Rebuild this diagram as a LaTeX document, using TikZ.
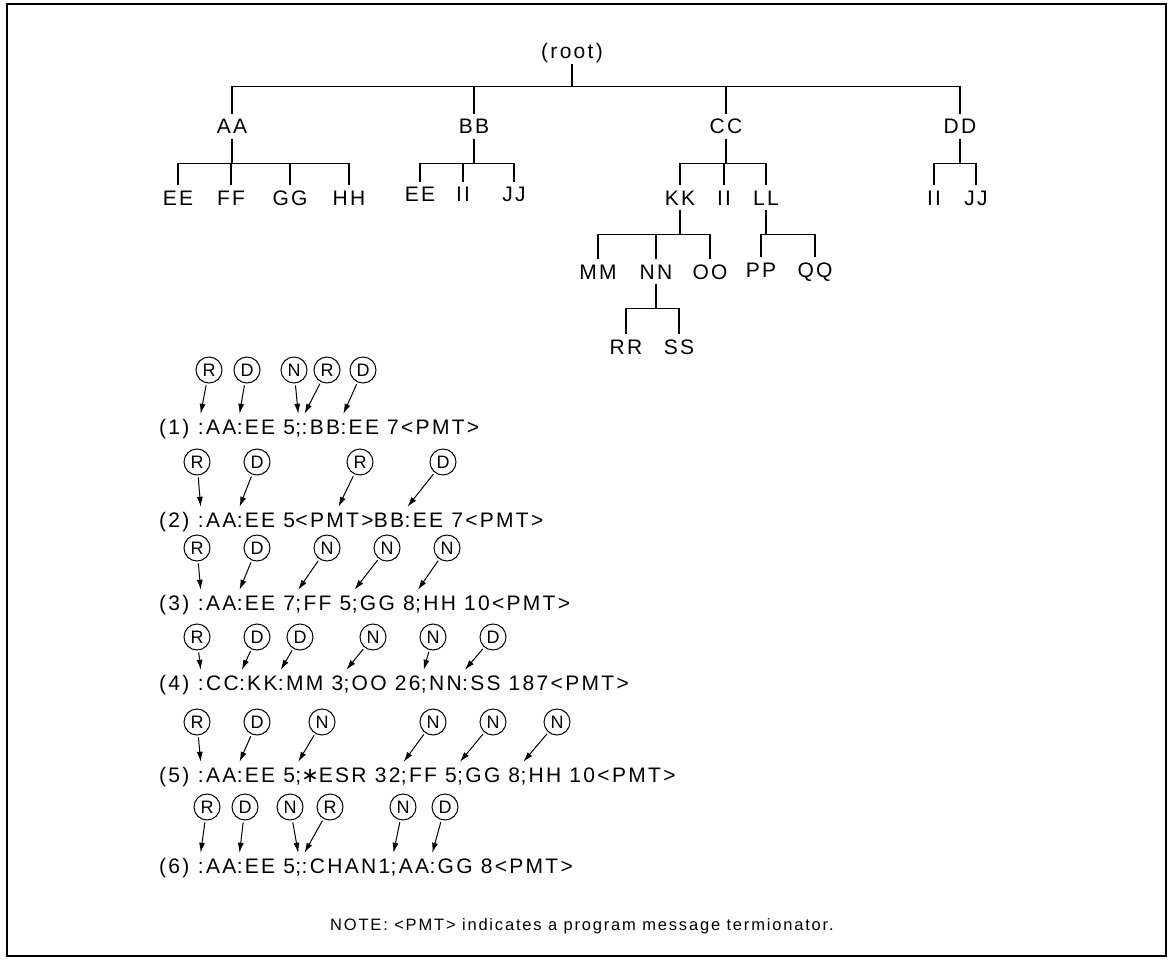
\documentclass[tikz,border=0pt]{standalone}
\usepackage{fontspec}
\setmainfont{Liberation Sans}[LetterSpace=11]
\newfontfamily\astfont{DejaVu Sans}
\usetikzlibrary{arrows.meta}

\tikzset{
  lbl/.style={inner xsep=0pt,inner ysep=5pt,text height=15pt,text depth=0pt,anchor=base,
    font=\fontsize{21}{25}\selectfont},
  msg/.style={inner sep=0pt,text height=20pt,text depth=0pt,anchor=base west,
    font=\fontsize{21}{25}\selectfont},
  tag/.style={circle,draw,line width=1pt,inner sep=0pt,minimum size=26pt,
    font=\fontsize{18}{18}\selectfont},
  ptr/.style={-{Latex[length=10pt,width=6pt]},line width=1pt,shorten <=2pt},
  branch/.style={line width=1.2pt}
}

\begin{document}
\begin{tikzpicture}[x=1pt,y=-1pt]
\useasboundingbox (0,0) rectangle (1172,960);
\draw[line width=1.3pt] (7,4) rectangle (1166,956);

% command tree
\node[lbl] (root) at (572,59) {(root)};
\foreach \name/\label/\x in {aa/AA/232,bb/BB/474,cc/CC/726,dd/DD/960}
\node[lbl] (\name) at (\x,134) {\label};
\foreach \name/\label/\x/\y in {aaee/EE/178/205,aaff/FF/231/205,aagg/GG/290/205,aahh/HH/349/205,bbee/EE/420/202,bbii/II/463/202,bbjj/JJ/514/202,cckk/KK/680/205,ccii/II/724/205,ccll/LL/766/205,ddii/II/934/205,ddjj/JJ/976/205,kkmm/MM/598/279,kknn/NN/656/279,kkoo/OO/710/279,llpp/PP/761/277,llqq/QQ/815/277,nnrr/RR/626/354,nnss/SS/679/354}
\node[lbl] (\name) at (\x,\y) {\label};
\foreach \kid in {aa,bb,cc,dd}
\draw[branch] (root.south) -- ++(0,22) -| (\kid.north);
\foreach \from/\kid in {aa/aaee,aa/aaff,aa/aagg,aa/aahh,bb/bbee,bb/bbii,bb/bbjj,cc/cckk,cc/ccii,cc/ccll,dd/ddii,dd/ddjj,cckk/kkmm,cckk/kknn,cckk/kkoo,ccll/llpp,ccll/llqq,kknn/nnrr,kknn/nnss}
\draw[branch] (\from.south) -- ++(0,24) -| (\kid.north);

% (1)
\node[msg] (m1o) at (159,434) {(1)\kern8pt};
\foreach \k/\txt [remember=\k as \prev (initially o)] in {a/{:AA},b/{:EE 5},c/{;},d/{:BB},e/{:EE 7<PMT>}}
\node[msg] (m1\k) at (m1\prev.base east) {\txt};
\foreach \lab/\x/\k in {R/209/a,D/247/b,N/294/c,R/327/d,D/363/e}{
\node[tag] (t1\k) at (\x,370) {\lab};
\draw[ptr] (t1\k) -- ([xshift=3pt]m1\k.north west);
}
% (2)
\node[msg] (m2o) at (159,527) {(2)\kern8pt};
\foreach \k/\txt [remember=\k as \prev (initially o)] in {a/{:AA},b/{:EE 5},c/{<PMT>},d/{BB},e/{:EE 7<PMT>}}
\node[msg] (m2\k) at (m2\prev.base east) {\txt};
\foreach \lab/\x/\k in {R/197/a,D/257/b,D/443/e}{
\node[tag] (t2\k) at (\x,462) {\lab};
\draw[ptr] (t2\k) -- ([xshift=3pt]m2\k.north west);
}
\node[tag] (t2c) at (360,462) {R};
\draw[ptr] (t2c) -- ([xshift=4pt]m2c.north);
% (3)
\node[msg] (m3o) at (159,610) {(3)\kern8pt};
\foreach \k/\txt [remember=\k as \prev (initially o)] in {a/{:AA},b/{:EE 7},c/{;FF 5},d/{;GG 8},e/{;HH 10<PMT>}}
\node[msg] (m3\k) at (m3\prev.base east) {\txt};
\foreach \lab/\x/\k in {R/197/a,D/257/b,N/327/c,N/387/d,N/447/e}{
\node[tag] (t3\k) at (\x,548) {\lab};
\draw[ptr] (t3\k) -- ([xshift=3pt]m3\k.north west);
}
% (4)
\node[msg] (m4o) at (159,690) {(4)\kern8pt};
\foreach \k/\txt [remember=\k as \prev (initially o)] in {a/{:CC},b/{:KK},c/{:MM 3},d/{;OO 26},e/{;NN},f/{:SS 187<PMT>}}
\node[msg] (m4\k) at (m4\prev.base east) {\txt};
\foreach \lab/\x/\k in {R/197/a,D/257/b,D/300/c,N/373/d,N/433/e,D/493/f}{
\node[tag] (t4\k) at (\x,637) {\lab};
\draw[ptr] (t4\k) -- ([xshift=3pt]m4\k.north west);
}
% (5)
\node[msg] (m5o) at (159,782) {(5)\kern8pt};
\foreach \k/\txt [remember=\k as \prev (initially o)] in {a/{:AA},b/{:EE 5},c/{;{\astfont ∗}ESR 32},d/{;FF 5},e/{;GG 8},f/{;HH 10<PMT>}}
\node[msg] (m5\k) at (m5\prev.base east) {\txt};
\foreach \lab/\x/\k in {R/197/a,D/257/b,N/322/c,N/433/d,N/493/e,N/557/f}{
\node[tag] (t5\k) at (\x,722) {\lab};
\draw[ptr] (t5\k) -- ([xshift=3pt]m5\k.north west);
}
% (6)
\node[msg] (m6o) at (159,873) {(6)\kern8pt};
\foreach \k/\txt [remember=\k as \prev (initially o)] in {a/{:AA},b/{:EE 5},c/{;},d/{:CHAN1},e/{;AA},f/{:GG 8<PMT>}}
\node[msg] (m6\k) at (m6\prev.base east) {\txt};
\foreach \lab/\x/\k in {R/207/a,D/245/b,N/290/c,R/330/d,N/403/e,D/445/f}{
\node[tag] (t6\k) at (\x,807) {\lab};
\draw[ptr] (t6\k) -- ([xshift=3pt]m6\k.north west);
}

\node[anchor=base west,inner sep=0pt,font=\fontsize{16.5}{20}\selectfont] (note) at (330,930) {NOTE: <PMT> indicates a program message termionator.};
\end{tikzpicture}
\end{document}
